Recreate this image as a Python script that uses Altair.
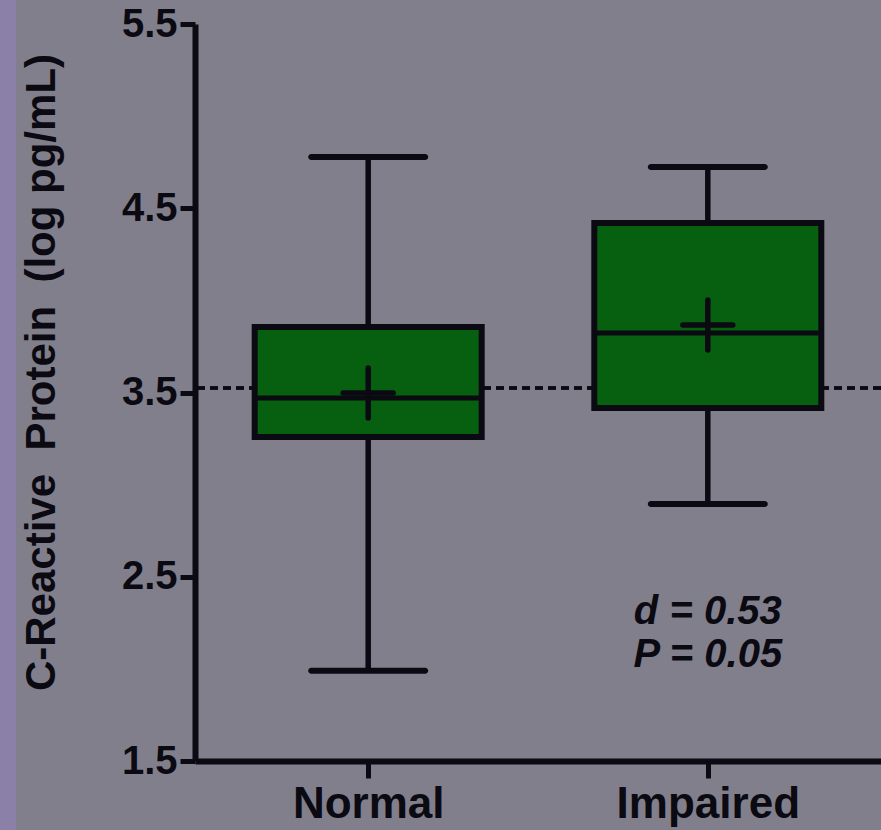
import altair as alt
import pandas as pd

groups = ["Normal", "Impaired"]
whisker_low = [1.99, 2.895]
q1 = [3.258, 3.416]
median = [3.47, 3.823]
q3 = [3.855, 4.42]
whisker_high = [4.778, 4.724]
mean = [3.497, 3.866]
reference_value = 3.524

annot_group = ["Impaired", "Impaired"]
annot_y = [2.309, 2.075]
annot_text = ["d = 0.53", "P = 0.05"]

y_ticks = [1.5, 2.5, 3.5, 4.5, 5.5]
y_title = "C-Reactive\u00a0\u00a0Protein\u00a0\u00a0(log pg/mL)"

INK = "#0b0a12"
BG = "#817f8b"
GREEN = "#06600f"
PURPLE = "#8b80a8"
FONT = "Liberation Sans"

df = pd.DataFrame({
    "group": groups, "low": whisker_low, "q1": q1, "median": median,
    "q3": q3, "high": whisker_high, "mean": mean,
})
ann = pd.DataFrame({"group": annot_group, "y": annot_y, "text": annot_text})

xscale = alt.Scale(type="point", domain=groups, padding=0.51)
xaxis = alt.Axis(title=None, labelFontSize=44, labelFont=FONT, labelFontWeight="bold",
                 labelColor=INK, tickSize=17, tickWidth=5, tickColor=INK,
                 domainColor=INK, domainWidth=6, labelPadding=4, labelAngle=0,
                 labelLimit=0)
yscale = alt.Scale(domain=[1.5, 5.5], nice=False, zero=False)
yaxis = alt.Axis(title=y_title, values=y_ticks, format=".1f",
                 labelFontSize=40, labelFont=FONT, labelFontWeight="bold", labelColor=INK,
                 tickSize=15, tickWidth=5, tickColor=INK, domainColor=INK, domainWidth=6,
                 labelPadding=3, grid=False, titleFont=FONT, titleFontSize=42,
                 titleFontWeight="bold", titleColor=INK, titleX=-132, titleY=348,
                 titleLimit=0)

def X():
    return alt.X("group:N", scale=xscale, axis=xaxis)

def Y(field):
    return alt.Y(f"{field}:Q", scale=yscale, axis=yaxis)

base = alt.Chart(df)

strip = alt.Chart(df).mark_rect(color=PURPLE).encode(
    x=alt.value(-195), x2=alt.value(-179), y=alt.value(-24), y2=alt.value(806)
)

ref = alt.Chart(df).mark_rule(color=INK, strokeWidth=3.5, strokeDash=[8, 5]).encode(
    y=alt.datum(reference_value, scale=yscale, axis=yaxis)
)

whisk = base.mark_rule(color=INK, strokeWidth=5.5).encode(x=X(), y=Y("low"), y2="high:Q")
cap_lo = base.mark_tick(color=INK, size=120, thickness=6, cornerRadius=3, opacity=1).encode(x=X(), y=Y("low"))
cap_hi = base.mark_tick(color=INK, size=120, thickness=6, cornerRadius=3, opacity=1).encode(x=X(), y=Y("high"))
box = base.mark_bar(size=227, fill=GREEN, stroke=INK, strokeWidth=6, opacity=1).encode(
    x=X(), y=Y("q1"), y2="q3:Q")
med = base.mark_tick(color=INK, size=227, thickness=5, opacity=1).encode(x=X(), y=Y("median"))
mn = base.mark_point(shape="M-1,0H1M0,-1V1", size=2500, filled=False, stroke=INK,
                     strokeWidth=5.5, strokeCap="round", opacity=1).encode(x=X(), y=Y("mean"))

txt = alt.Chart(ann).mark_text(font=FONT, fontSize=40, fontWeight="bold", fontStyle="italic",
                               color=INK, align="center", baseline="middle").encode(
    x=X(), y=Y("y"), text="text:N")

chart = alt.layer(strip, ref, whisk, cap_lo, cap_hi, box, med, mn, txt).properties(
    width=686, height=737,
    autosize=alt.AutoSizeParams(type="none"),
    padding={"left": 195, "top": 24, "right": 0, "bottom": 69},
    background=BG,
).configure_view(stroke=None, fill=BG)

chart.save("out.html", embed_options={"renderer": "svg", "actions": False})
